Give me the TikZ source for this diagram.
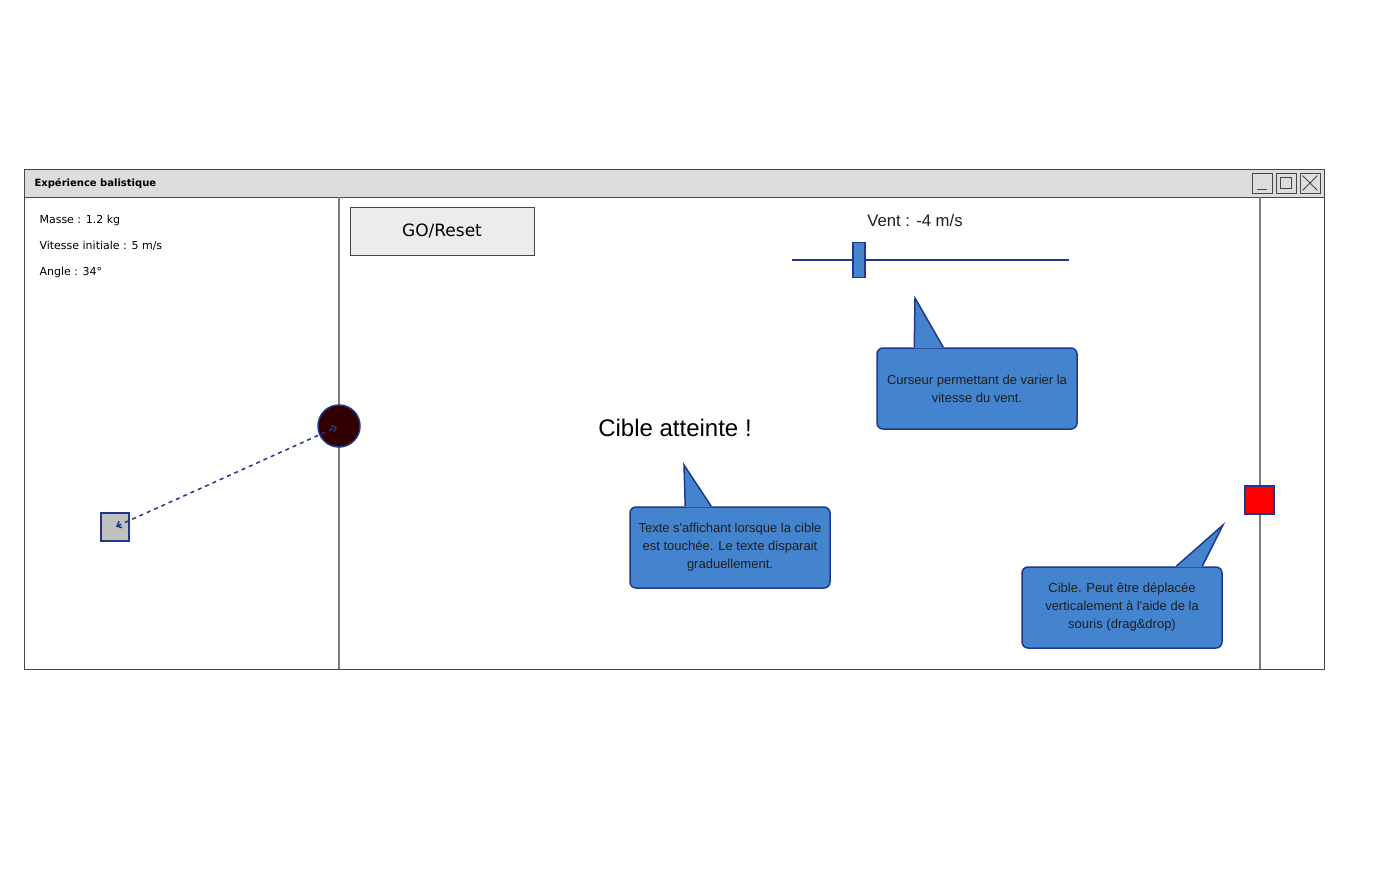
\documentclass[tikz,border=0pt]{standalone}
\usepackage{fontspec}
\setmainfont{Liberation Sans}
\newfontfamily\sketchfont{DejaVu Sans}
\usetikzlibrary{calc,arrows.meta}
\definecolor{winedge}{RGB}{70,70,70}
\definecolor{divgray}{RGB}{125,125,125}
\definecolor{bargray}{RGB}{221,221,221}
\definecolor{btngray}{RGB}{236,236,236}
\definecolor{callblue}{RGB}{68,132,206}
\definecolor{edgeblue}{RGB}{31,56,140}
\definecolor{ballred}{RGB}{51,0,0}
\definecolor{boxgray}{RGB}{192,192,192}
\definecolor{textdark}{RGB}{30,30,30}
\begin{document}
\begin{tikzpicture}[x=1pt, y=-1pt,
    frame/.style={draw=winedge, line width=1pt, minimum width=1300pt, minimum height=500pt, anchor=north west, inner sep=0pt},
    titlebar/.style={draw=winedge, fill=bargray, line width=1pt, minimum width=1300pt, minimum height=28pt, anchor=north west, inner sep=0pt},
    winbtn/.style={draw=winedge, fill=bargray, line width=.8pt, minimum size=20pt, inner sep=0pt},
    divider/.style={draw=divgray, line width=1.2pt},
    infotext/.style={anchor=west, font=\sketchfont\fontsize{11}{13}\selectfont, text=black},
    gobutton/.style={draw=winedge, fill=btngray, line width=.8pt, minimum width=184pt, minimum height=48pt, font=\sketchfont\fontsize{17}{20}\selectfont},
    callout/.style={draw=edgeblue, fill=callblue, rounded corners=6pt, line width=1.5pt, minimum width=200pt, minimum height=81pt, align=center, font=\fontsize{13}{18}\selectfont, text=textdark},
    tailedge/.style={draw=edgeblue, line width=1.5pt, line join=miter},
    traj/.style={draw=edgeblue, line width=1.5pt, dashed, dash pattern=on 4pt off 4pt, {Straight Barb[length=4pt,width=7pt]}-{Straight Barb[length=4pt,width=7pt]}}]
    \useasboundingbox (0,0) rectangle (1400,875);
    % window
    \node[frame] (win) at (24,169) {};
    \node[titlebar] (bar) at (24,169) {};
    \node[anchor=west, font=\sketchfont\bfseries\fontsize{10}{12}\selectfont] (title) at (31,184) {Expérience balistique};
    \foreach \n/\x in {min/1262, max/1286, close/1310}
        \node[winbtn] (\n) at (\x,183) {};
    \draw[winedge, line width=.8pt] ($(min.south west)+(5,-4)$) -- ($(min.south east)+(-5,-4)$);
    \draw[winedge, line width=.8pt] ($(max.north west)+(5,5)$) rectangle ($(max.south east)+(-5,-5)$);
    \draw[winedge, line width=.8pt] ($(close.north west)+(3,3)$) -- ($(close.south east)+(-3,-3)$);
    \draw[winedge, line width=.8pt] ($(close.north east)+(-3,3)$) -- ($(close.south west)+(3,-3)$);
    \draw[divider] (339,197) -- (339,669);
    \draw[divider] (1260,197) -- (1260,669);
    % left panel
    \node[infotext] (masse) at (36,220) {Masse : 1.2 kg};
    \node[infotext] (vitesse) at (36,246) {Vitesse initiale : 5 m/s};
    \node[infotext] (angle) at (36,272) {Angle : 34°};
    \node[draw=edgeblue, fill=boxgray, line width=1.5pt, minimum size=28pt, inner sep=0pt] (launcher) at (115,527) {};
    \node[circle, draw=edgeblue, fill=ballred, line width=1.5pt, minimum size=42pt, inner sep=0pt] (ball) at (339,426) {};
    \draw[traj, shorten <=1pt, shorten >=2pt] (launcher.center) -- (ball.center);
    % controls
    \node[gobutton] (go) at (442,231) {GO/Reset};
    \node[font=\fontsize{16.7}{20}\selectfont, text=textdark] (vent) at (915,221) {Vent : -4 m/s};
    \coordinate (sl) at (792,260);
    \coordinate (sr) at (1069,260);
    \draw[edgeblue, line width=1.5pt] (sl) -- (sr);
    \node[draw=edgeblue, fill=callblue, line width=1.5pt, minimum width=12pt, minimum height=35pt, inner sep=0pt] (knob) at (859,260) {};
    \node[font=\fontsize{24}{28}\selectfont, text=black] (hit) at (675,428) {Cible atteinte !};
    \node[draw=edgeblue, fill=red, line width=1.5pt, minimum width=29pt, minimum height=28pt, inner sep=0pt] (target) at (1259.5,500) {};
    % callouts
    \node[callout] (c1) at (977,388.5) {Curseur permettant de varier la\\vitesse du vent.};
    \node[callout] (c2) at (730,547.5) {Texte s\textquotesingle affichant lorsque la cible\\est touchée. Le texte disparait\\graduellement.};
    \node[callout] (c3) at (1122,607.5) {Cible. Peut être déplacée\\verticalement à l\textquotesingle aide de la\\souris (drag\&drop)};
    \foreach \c/\a/\b/\tx/\ty in {c1/38/67/915/298, c2/56/82/684/465, c3/155/181/1223/525}{
        \coordinate (\c tip) at (\tx,\ty);
        \fill[callblue] ($(\c.north west)+(\a,1)$) -- (\c tip) -- ($(\c.north west)+(\b,1)$) -- cycle;
        \draw[tailedge] ($(\c.north west)+(\a,0)$) -- (\c tip) -- ($(\c.north west)+(\b,0)$);
    }
\end{tikzpicture}
\end{document}
